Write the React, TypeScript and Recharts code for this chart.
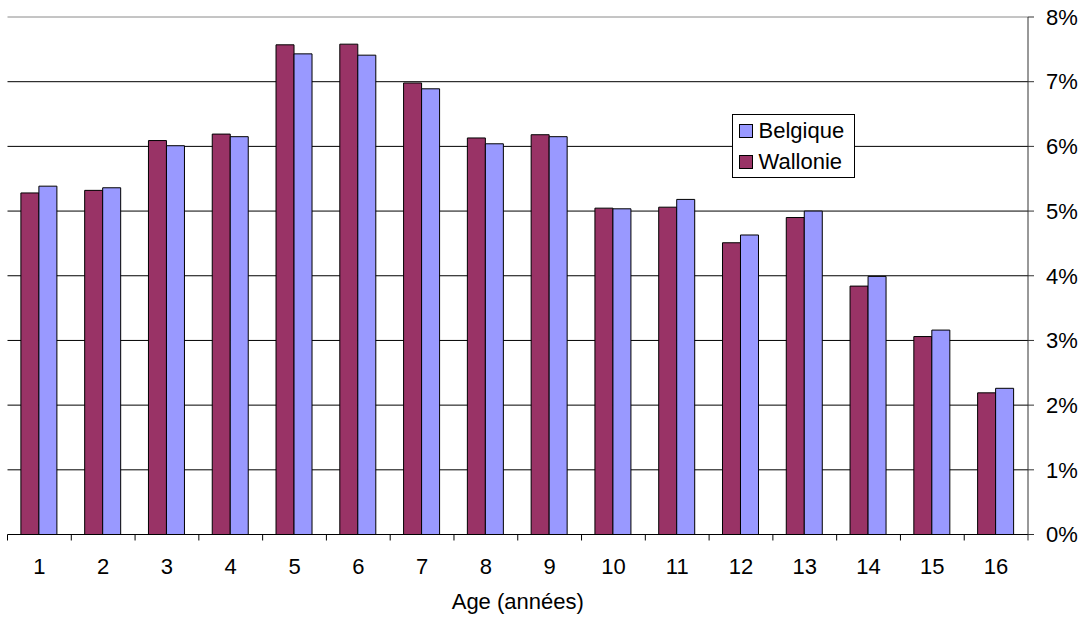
import React from 'react';
import { BarChart, Bar, XAxis, YAxis, CartesianGrid, Legend, ReferenceLine } from 'recharts';

// Age groups (years) and share of the population per age, in percent
const ages = ['1', '2', '3', '4', '5', '6', '7', '8', '9', '10', '11', '12', '13', '14', '15', '16'];
const wallonie = [5.28, 5.32, 6.09, 6.19, 7.57, 7.58, 6.98, 6.13, 6.18, 5.045, 5.06, 4.51, 4.9, 3.84, 3.06, 2.19];
const belgique = [5.385, 5.36, 6.01, 6.15, 7.43, 7.41, 6.89, 6.04, 6.15, 5.035, 5.18, 4.63, 5.0, 3.99, 3.16, 2.26];
const percentTicks = [0, 1, 2, 3, 4, 5, 6, 7, 8];
const gridValues = [1, 2, 3, 4, 5, 6, 7];
const legendOrder = ['Belgique', 'Wallonie'];

const rows = ages.map((age, i) => ({ age, wallonie: wallonie[i], belgique: belgique[i] }));

const FONT = '"Liberation Sans", Arial, Helvetica, sans-serif';
const FONT_SIZE = 22;
const WAL = '#993366';
const BEL = '#9999FF';

// Category label plus a short tick mark on each category boundary
function AgeTick(props: any) {
  const { x, y, payload, index, width } = props;
  const half = width / ages.length / 2;
  return (
    <g>
      <line x1={x - half} y1={y} x2={x - half} y2={y + 6} stroke="#000" />
      {index === ages.length - 1 && (
        <line x1={x + half} y1={y} x2={x + half} y2={y + 6} stroke="#333" />
      )}
      <text x={x} y={y + 39.5} textAnchor="middle" fontSize={FONT_SIZE} fontFamily={FONT} fill="#000">
        {payload.value}
      </text>
    </g>
  );
}

// Boxed legend, Belgique listed first
function LegendBox(props: any) {
  const items = [...(props.payload || [])].sort(
    (a: any, b: any) => legendOrder.indexOf(a.value) - legendOrder.indexOf(b.value)
  );
  return (
    <div
      style={{
        position: 'relative',
        width: 121,
        height: 62,
        border: '1px solid #000',
        background: '#fff',
        fontFamily: FONT,
        fontSize: FONT_SIZE,
        color: '#000',
      }}
    >
      {items.map((it: any, i: number) => (
        <div key={it.value} style={{ position: 'absolute', left: 0, top: 0, width: '100%' }}>
          <div
            style={{
              position: 'absolute',
              left: 6,
              top: 9 + i * 31,
              width: 12,
              height: 12,
              background: it.color,
              border: '1px solid #000',
            }}
          />
          <div style={{ position: 'absolute', left: 26, top: 1 + i * 31, lineHeight: '30px', whiteSpace: 'nowrap' }}>
            {it.value}
          </div>
        </div>
      ))}
    </div>
  );
}

export default function App() {
  return (
    <div style={{ position: 'absolute', left: 0, top: 0, width: 1084, height: 620, background: '#fff' }}>
      <BarChart
        width={1084}
        height={620}
        data={rows}
        margin={{ top: 17, right: 0, bottom: 0, left: 7.5 }}
        barCategoryGap="21%"
        barGap={0}
      >
        <CartesianGrid vertical={false} horizontalValues={gridValues} stroke="#000" />
        <XAxis
          dataKey="age"
          height={85.5}
          axisLine={{ stroke: '#000' }}
          tickLine={false}
          tickSize={0}
          tickMargin={0}
          tick={<AgeTick />}
          interval={0}
          label={{ value: 'Age (années)', position: 'insideBottom', offset: 11, fontSize: FONT_SIZE, fontFamily: FONT, fill: '#000' }}
        />
        <YAxis
          yAxisId="frame"
          orientation="left"
          width={0}
          domain={[0, 8]}
          ticks={percentTicks}
          tick={false}
          tickLine={false}
          axisLine={{ stroke: '#8a8a8a' }}
        />
        <YAxis
          orientation="right"
          width={56}
          domain={[0, 8]}
          ticks={percentTicks}
          interval={0}
          tickFormatter={(v: number) => `${v}%`}
          tickSize={6}
          tickMargin={12}
          axisLine={{ stroke: '#333' }}
          tickLine={{ stroke: '#333' }}
          tick={{ fontSize: FONT_SIZE, fontFamily: FONT, fill: '#000' }}
        />
        <ReferenceLine y={8} stroke="#8a8a8a" />
        <Legend
          layout="horizontal"
          verticalAlign="middle"
          align="center"
          content={<LegendBox />}
          wrapperStyle={{ position: 'absolute', left: 731.5, top: 114, width: 123, height: 64 }}
        />
        <Bar dataKey="wallonie" name="Wallonie" fill={WAL} stroke="#000" strokeWidth={1} isAnimationActive={false} />
        <Bar dataKey="belgique" name="Belgique" fill={BEL} stroke="#000" strokeWidth={1} isAnimationActive={false} />
      </BarChart>
    </div>
  );
}
